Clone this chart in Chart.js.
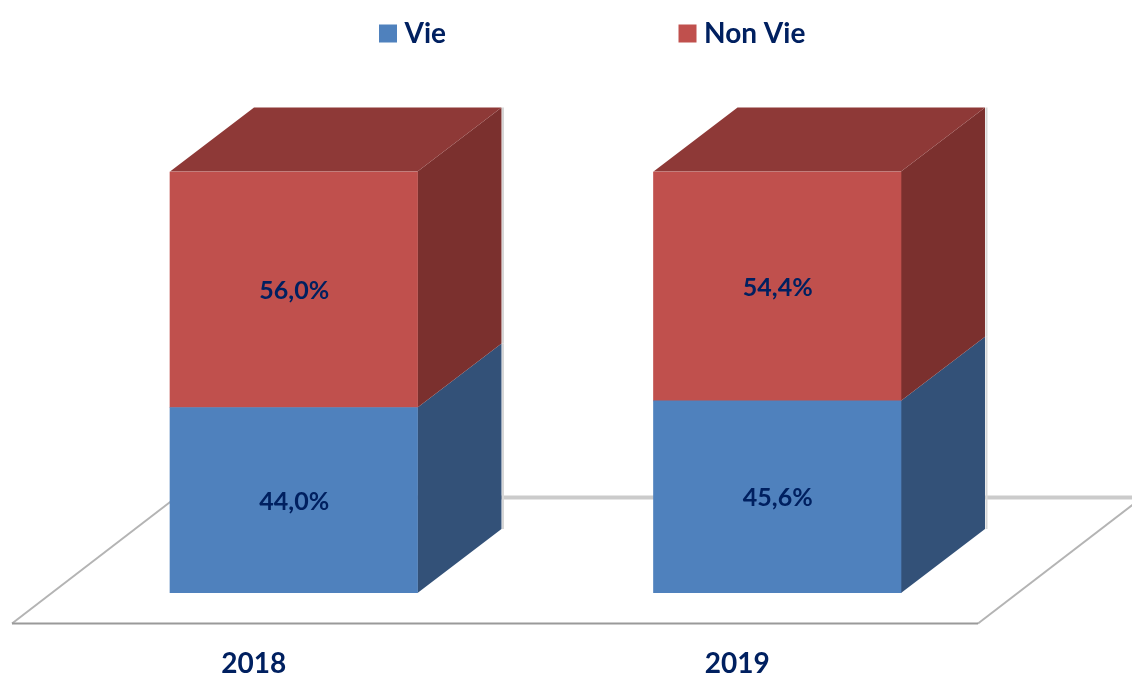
<!DOCTYPE html>
<html><head><meta charset="utf-8">
<style>html,body{margin:0;padding:0;background:#fff}canvas{display:block}</style>
<script src="https://cdn.jsdelivr.net/npm/chart.js@4"></script>
</head><body><canvas id="c" width="1132" height="675"></canvas>
<script>
const categories = ['2018', '2019'];
const vie = [44.0, 45.6];
const nonVie = [56.0, 54.4];
const seriesNames = ['Vie', 'Non Vie'];
const frontColors = ['#4f81bd', '#c0504d'];
const sideColors = ['#335178', '#7b302e'];
const topColor = '#8e3937';
const inkColor = '#002060';
const fontFamily = 'Lato, "Open Sans", sans-serif';
const depthX = 84, depthY = 64;
const legendPadding = 239;

function poly(ctx, pts, fill) {
  ctx.beginPath();
  pts.forEach((p, i) => i ? ctx.lineTo(p[0], p[1]) : ctx.moveTo(p[0], p[1]));
  ctx.closePath();
  ctx.fillStyle = fill;
  ctx.fill();
}
function line(ctx, a, b, color, w) {
  ctx.beginPath(); ctx.moveTo(a[0], a[1]); ctx.lineTo(b[0], b[1]);
  ctx.strokeStyle = color; ctx.lineWidth = w; ctx.stroke();
}
const solid3d = {
  id: 'solid3d',
  beforeLayout(chart) {
    const lg = chart.legend;
    if (lg && !lg._patched) {
      const fit = lg.fit;
      lg.fit = function () { fit.call(this); this.height = 171.5; };
      lg._patched = true;
    }
  },
  afterLayout(chart) {
    chart.legend.left = 385.5 - legendPadding;
    chart.legend.right = 2000;
    chart.legend.top = 19.5 - legendPadding;
  },
  beforeDatasetsDraw(chart) {
    const { ctx, chartArea: a } = chart;
    ctx.save();
    const backY = a.bottom - 95.5, frontY = a.bottom + 30.5;
    const fl = a.left - 40, fr = a.right - 41;
    line(ctx, [fl + 164, backY], [fr + 164, backY], '#cbcbcb', 4);
    line(ctx, [fl, frontY], [fl + 164, backY], '#b4b4b4', 2);
    line(ctx, [fr, frontY], [fr + 164, backY], '#b4b4b4', 2);
    line(ctx, [fl, frontY], [fr, frontY], '#9a9a9a', 2);
    chart.data.datasets.forEach((ds, di) => {
      chart.getDatasetMeta(di).data.forEach(bar => {
        const r = bar.x + bar.width / 2, l = bar.x - bar.width / 2;
        const t = bar.y, b = bar.base;
        line(ctx, [r + depthX + 1.5, t - depthY], [r + depthX + 1.5, b - depthY], '#d6d6d6', 2);
        poly(ctx, [[r, t], [r + depthX, t - depthY], [r + depthX, b - depthY], [r, b]], sideColors[di]);
        if (di === chart.data.datasets.length - 1) {
          poly(ctx, [[l, t], [l + depthX, t - depthY], [r + depthX, t - depthY], [r, t]], topColor);
        }
      });
    });
    ctx.restore();
  },
  afterDatasetsDraw(chart) {
    const { ctx } = chart;
    ctx.save();
    ctx.font = 'bold 25px ' + fontFamily;
    ctx.fillStyle = inkColor;
    ctx.textAlign = 'center';
    ctx.textBaseline = 'middle';
    chart.data.datasets.forEach((ds, di) => {
      chart.getDatasetMeta(di).data.forEach((bar, i) => {
        const label = ds.data[i].toFixed(1).replace('.', ',') + '%';
        ctx.fillText(label, bar.x + 0.5, (bar.y + bar.base) / 2 + 1.5);
      });
    });
    ctx.restore();
  }
};

new Chart(document.getElementById('c'), {
  type: 'bar',
  data: {
    labels: categories,
    datasets: [
      { label: seriesNames[0], data: vie, backgroundColor: frontColors[0], borderWidth: 0, barThickness: 247.5 },
      { label: seriesNames[1], data: nonVie, backgroundColor: frontColors[1], borderWidth: 0, barThickness: 247.5 }
    ]
  },
  plugins: [solid3d],
  options: {
    responsive: false,
    animation: false,
    layout: { padding: { left: 52, right: 113, top: 0, bottom: 0 } },
    plugins: {
      tooltip: { enabled: false },
      legend: {
        position: 'top',
        align: 'start',
        labels: {
          boxWidth: 5,
          boxHeight: 5,
          padding: legendPadding,
          color: inkColor,
          font: { family: fontFamily, size: 28, weight: 'bold' },
          generateLabels(chart) {
            return chart.data.datasets.map((d, i) => ({
              text: d.label, fillStyle: d.backgroundColor, strokeStyle: d.backgroundColor,
              lineWidth: 13, datasetIndex: i, fontColor: inkColor
            }));
          }
        }
      }
    },
    scales: {
      x: {
        stacked: true,
        grid: { display: false },
        border: { display: false },
        ticks: { color: inkColor, padding: 46, labelOffset: -40, font: { family: fontFamily, size: 28, weight: 'bold' } },
        afterFit(s) { s.height = 82; }
      },
      y: { stacked: true, display: false, min: 0, max: 100 }
    }
  }
});
</script></body></html>
